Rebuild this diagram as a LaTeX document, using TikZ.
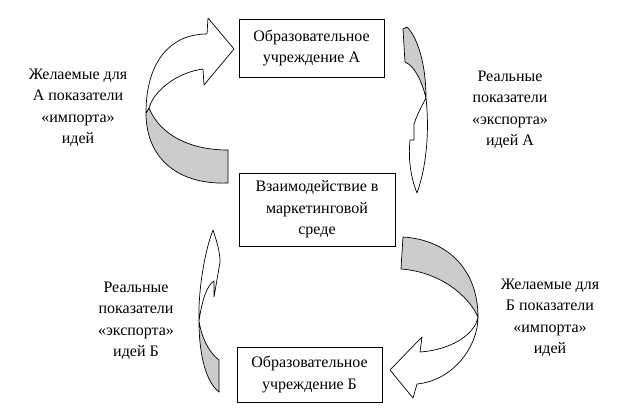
\documentclass[tikz,border=0pt]{standalone}
\usepackage{fontspec}
\setmainfont{LiberationSerif}[Extension=.ttf,UprightFont=*-Regular,BoldFont=*-Bold]
\definecolor{backgray}{RGB}{204,204,204}
\begin{document}
\begin{tikzpicture}[x=1pt,y=-1pt,
  txt/.style={font=\fontsize{16}{21.5}\selectfont},
  box/.style={txt,draw=black,line width=0.8pt,fill=white,align=center,inner sep=0pt},
  lbl/.style={txt,align=center,inner sep=0pt},
  front/.style={draw=black,line width=0.7pt,fill=white,line join=round},
  back/.style={draw=black,line width=0.7pt,fill=backgray,line join=round}]
\useasboundingbox[fill=white] (0,0) rectangle (624,416);

% boxes
\node[box,minimum width=145pt,minimum height=58pt] (A) at (311.5,48) {Образовательное\\учреждение А};
\node[box,minimum width=156pt,minimum height=73pt] (M) at (317,209.5) {Взаимодействие в\\маркетинговой\\среде};
\node[box,minimum width=145pt,minimum height=55pt] (B) at (309.5,374.5) {Образовательное\\учреждение Б};

% arrow 1 (top left, pointing right to A)
\draw[back] (149,108) .. controls (160,135) and (190,150) .. (228,150) -- (228,183)
  .. controls (180,185) and (146,160) .. (146,113) -- cycle;
\draw[front] (203,69) -- (204,85) -- (234,49) -- (208,18) -- (207,34)
  .. controls (170,34) and (146,62) .. (146,113) -- (149,108)
  .. controls (155,88) and (180,72) .. (203,69) -- cycle;

% arrow 2 (top right, pointing down)
\draw[back] (403,29) -- (407,27) .. controls (418,38) and (426,65) .. (426,98)
  .. controls (422,82) and (415,66) .. (405,62) -- cycle;
\draw[front] (426,98) .. controls (429,125) and (428,162) .. (417,193)
  .. controls (411,178) and (408,160) .. (410,140) -- (414,140) -- (414,124)
  .. controls (418,112) and (423,104) .. (426,98) -- cycle;

% arrow 3 (bottom right, pointing left to B)
\draw[back] (403,237) .. controls (450,240) and (478,272) .. (478,317)
  .. controls (468,295) and (440,272) .. (401,269) -- cycle;
\draw[front] (478,317) .. controls (478,345) and (455,380) .. (417,384) -- (413,398)
  -- (390,370) -- (422,337) -- (420,352)
  .. controls (450,350) and (475,335) .. (478,317) -- cycle;

% arrow 4 (bottom left, pointing up)
\draw[back] (219,360) -- (219,392) .. controls (206,382) and (199,355) .. (199,321)
  .. controls (201,335) and (208,352) .. (219,360) -- cycle;
\draw[front] (199,321) .. controls (198,290) and (205,250) .. (213,230)
  .. controls (217,242) and (220,252) .. (220,262) -- (214,297) -- (214,281)
  .. controls (207,285) and (202,300) .. (199,321) -- cycle;

% labels
\node[lbl] (l1) at (78,108) {Желаемые для\\А показатели\\«импорта»\\идей};
\node[lbl] (l2) at (510,110) {Реальные\\показатели\\«экспорта»\\идей А};
\node[lbl] (l3) at (136,321) {Реальные\\показатели\\«экспорта»\\идей Б};
\node[lbl] (l4) at (550,318) {Желаемые для\\Б показатели\\«импорта»\\идей};
\end{tikzpicture}
\end{document}
